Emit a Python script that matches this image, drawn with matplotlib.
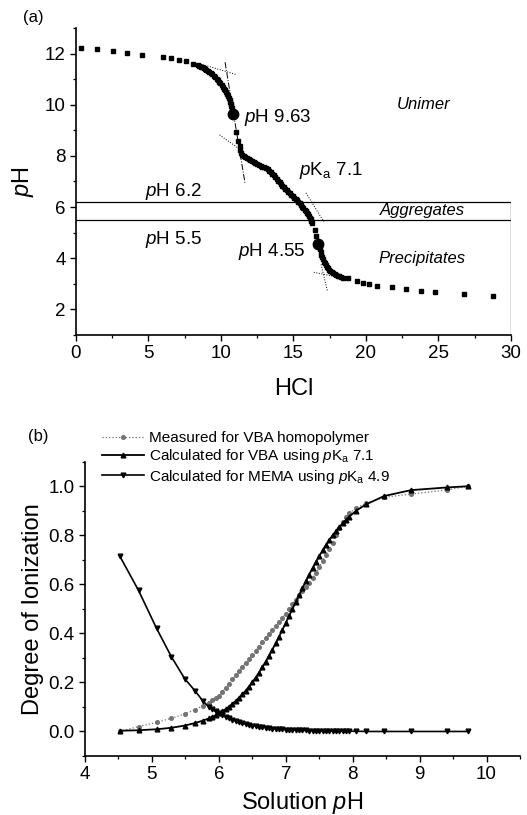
"""Titration curve (a) and degree of ionization (b) for the VBA/MEMA system."""

import matplotlib.pyplot as plt
from matplotlib.ticker import MultipleLocator

plt.rcParams["font.family"] = ["Liberation Sans", "DejaVu Sans"]
plt.rcParams["mathtext.fontset"] = "custom"
plt.rcParams["mathtext.rm"] = "Liberation Sans"
plt.rcParams["mathtext.it"] = "Liberation Sans:italic"
plt.rcParams["mathtext.bf"] = "Liberation Sans:bold"

# ---- (a) titration with HCl ----
hcl = [0.34, 1.43, 2.53, 3.52, 4.55, 6.02, 6.55, 7.10, 7.57, 8.09,
       8.40, 8.50, 8.60, 8.70, 8.80, 8.90, 9.00, 9.10, 9.20, 9.30,
       9.40, 9.50, 9.60, 9.70, 9.80, 9.88, 9.96, 10.04, 10.12, 10.20,
       10.28, 10.35, 10.42, 10.48, 10.54, 10.59, 10.64, 10.68, 10.72, 10.75,
       11.03, 11.15,
       11.28, 11.34, 11.40, 11.48, 11.58, 11.68, 11.78, 11.90, 12.02, 12.14,
       12.26, 12.38, 12.50, 12.62, 12.74, 12.86, 12.98, 13.10, 13.22, 13.33,
       13.44, 13.54, 13.64, 13.74, 13.84, 13.94, 14.04, 14.14, 14.24, 14.34,
       14.44, 14.54, 14.64, 14.74, 14.84, 14.94, 15.04, 15.14, 15.24, 15.33,
       15.42, 15.51, 15.60, 15.68, 15.76, 15.84, 15.91, 15.98, 16.05, 16.12,
       16.18, 16.24, 16.30,
       16.45, 16.53,
       16.82, 16.87, 16.92, 16.97, 17.03, 17.09, 17.15, 17.22, 17.30, 17.38,
       17.46, 17.55, 17.64, 17.73, 17.83, 17.93, 18.04, 18.16, 18.28, 18.40,
       18.78, 19.36, 19.80, 20.23, 20.74, 21.77, 22.76, 23.77, 24.76, 26.78,
       28.78]
ph = [12.22, 12.16, 12.09, 12.03, 11.96, 11.88, 11.82, 11.75, 11.69, 11.60,
      11.54, 11.51, 11.49, 11.46, 11.43, 11.40, 11.36, 11.32, 11.28, 11.24,
      11.19, 11.13, 11.07, 11.01, 10.95, 10.89, 10.83, 10.77, 10.70, 10.63,
      10.56, 10.49, 10.41, 10.34, 10.26, 10.19, 10.11, 10.03, 9.95, 9.87,
      8.93, 8.58,
      8.40, 8.24, 8.12, 8.05, 8.00, 7.95, 7.91, 7.87, 7.83, 7.79,
      7.76, 7.72, 7.69, 7.65, 7.62, 7.58, 7.55, 7.51, 7.47, 7.42,
      7.37, 7.31, 7.24, 7.17, 7.10, 7.03, 6.97, 6.91, 6.84, 6.77,
      6.71, 6.65, 6.59, 6.53, 6.47, 6.42, 6.37, 6.31, 6.26, 6.20,
      6.14, 6.08, 6.02, 5.96, 5.90, 5.84, 5.78, 5.72, 5.66, 5.59,
      5.52, 5.45, 5.38,
      5.10, 4.87,
      4.36, 4.24, 4.13, 4.04, 3.95, 3.87, 3.80, 3.73, 3.66, 3.60,
      3.55, 3.50, 3.46, 3.42, 3.39, 3.35, 3.32, 3.29, 3.26, 3.24,
      3.22, 3.11, 3.03, 2.98, 2.93, 2.87, 2.79, 2.72, 2.67, 2.60,
      2.54]

# equivalence points
eq_hcl = [10.80, 16.72]
eq_ph = [9.63, 4.55]

# tangent constructions: (x0, x1), (y0, y1), line style
tangents = [
    ((8.55, 11.10), (11.60, 11.17), ":"),
    ((10.28, 11.66), (11.66, 6.92), "-."),
    ((9.90, 11.40), (8.82, 8.22), ":"),
    ((15.86, 17.10), (6.55, 5.42), ":"),
    ((16.40, 18.10), (3.45, 3.26), ":"),
    ((16.90, 17.35), (3.76, 2.70), ":"),
]

ph_upper = 6.2
ph_lower = 5.5

# ---- (b) degree of ionization ----
solution_ph = [4.52, 4.80, 5.07, 5.29, 5.49, 5.64, 5.76, 5.85,
               5.90, 5.95, 6.00, 6.05, 6.10, 6.15, 6.20, 6.25, 6.30, 6.35,
               6.40, 6.45, 6.50, 6.55, 6.60, 6.65, 6.70, 6.75, 6.80, 6.85,
               6.90, 6.95, 7.00, 7.05, 7.10, 7.15, 7.20, 7.25, 7.30, 7.35,
               7.40, 7.45, 7.50, 7.55, 7.60, 7.65, 7.70, 7.75, 7.80, 7.85,
               7.90, 7.95, 8.05, 8.20, 8.47, 8.87, 9.41, 9.73]
measured_vba = [0.000, 0.020, 0.037, 0.054, 0.071, 0.089, 0.105, 0.118,
                0.128, 0.137, 0.145, 0.162, 0.178, 0.195, 0.212, 0.229, 0.245, 0.262,
                0.279, 0.296, 0.312, 0.329, 0.346, 0.363, 0.380, 0.396, 0.413, 0.430,
                0.446, 0.463, 0.480, 0.500, 0.520, 0.538, 0.555, 0.572, 0.590, 0.607,
                0.625, 0.645, 0.670, 0.695, 0.720, 0.745, 0.770, 0.800, 0.830, 0.855,
                0.875, 0.890, 0.912, 0.930, 0.955, 0.968, 0.985, 1.000]
calc_vba = [0.003, 0.005, 0.009, 0.015, 0.024, 0.034, 0.044, 0.053,
            0.059, 0.066, 0.074, 0.082, 0.091, 0.101, 0.112, 0.124, 0.137, 0.151,
            0.166, 0.183, 0.201, 0.220, 0.240, 0.262, 0.285, 0.309, 0.334, 0.360,
            0.387, 0.415, 0.443, 0.472, 0.500, 0.528, 0.557, 0.585, 0.613, 0.640,
            0.666, 0.691, 0.715, 0.738, 0.760, 0.780, 0.800, 0.817, 0.834, 0.849,
            0.863, 0.876, 0.900, 0.926, 0.960, 0.984, 0.995, 1.000]
calc_mema = [0.715, 0.575, 0.420, 0.305, 0.215, 0.167, 0.125, 0.100,
             0.090, 0.082, 0.074, 0.066, 0.059, 0.053, 0.047, 0.042, 0.038, 0.034,
             0.030, 0.027, 0.024, 0.022, 0.019, 0.017, 0.016, 0.014, 0.012, 0.011,
             0.010, 0.009, 0.008, 0.007, 0.006, 0.005, 0.005, 0.004, 0.004, 0.003,
             0.003, 0.003, 0.002, 0.002, 0.002, 0.002, 0.001, 0.001, 0.001, 0.001,
             0.001, 0.001, 0.001, 0.000, 0.000, 0.000, 0.000, 0.000]

legend_labels = [
    "Measured for VBA homopolymer",
    r"Calculated for VBA using $\mathit{p}$K$_\mathregular{a}$ 7.1",
    r"Calculated for MEMA using $\mathit{p}$K$_\mathregular{a}$ 4.9",
]


def style_axes(ax):
    for side in ("top", "right"):
        ax.spines[side].set_visible(False)
    for side in ("left", "bottom"):
        ax.spines[side].set_linewidth(1.2)
    ax.tick_params(which="major", direction="out", length=4, width=1.0, labelsize=13.5)
    ax.tick_params(which="minor", direction="out", length=2.5, width=0.9)


fig = plt.figure(figsize=(5.27, 8.15), dpi=100)

# panel (a)
ax1 = fig.add_axes([0.1442, 0.589, 0.8254, 0.3767])
style_axes(ax1)
ax1.plot(hcl, ph, "s", color="black", ms=3.4, mec="black")
ax1.plot(eq_hcl, eq_ph, "o", color="black", ms=7.5)
for xs, ys, ls in tangents:
    ax1.plot(xs, ys, ls, color="black", lw=0.7)
ax1.plot([0, 30], [ph_upper, ph_upper], color="black", lw=0.9)
ax1.plot([0, 30], [ph_lower, ph_lower], color="black", lw=0.9)
ax1.plot([30, 30], [1, ph_upper], color="black", lw=0.9)

ax1.text(11.6, 9.5, r"$\mathit{p}$H 9.63", fontsize=13.5, va="center")
ax1.text(15.4, 7.44, r"$\mathit{p}$K$_\mathregular{a}$ 7.1", fontsize=13.5, va="center")
ax1.text(4.76, 6.62, r"$\mathit{p}$H 6.2", fontsize=13.5, va="center")
ax1.text(4.76, 4.74, r"$\mathit{p}$H 5.5", fontsize=13.5, va="center")
ax1.text(15.8, 4.25, r"$\mathit{p}$H 4.55", fontsize=13.5, va="center", ha="right")
ax1.text(24.0, 10.0, "Unimer", fontsize=12, style="italic", ha="center", va="center")
ax1.text(23.9, 5.85, "Aggregates", fontsize=12, style="italic", ha="center", va="center")
ax1.text(23.9, 4.0, "Precipitates", fontsize=12, style="italic", ha="center", va="center")

ax1.set_xlim(0, 30)
ax1.set_ylim(1, 13)
ax1.xaxis.set_major_locator(MultipleLocator(5))
ax1.xaxis.set_minor_locator(MultipleLocator(2.5))
ax1.yaxis.set_major_locator(MultipleLocator(2))
ax1.yaxis.set_minor_locator(MultipleLocator(1))
ax1.set_xlabel("HCl", fontsize=17, labelpad=11)
ax1.set_ylabel(r"$\mathit{p}$H", fontsize=17, labelpad=6)
fig.text(0.063, 0.979, "(a)", fontsize=12, ha="center", va="center")

# panel (b)
ax2 = fig.add_axes([0.1613, 0.0724, 0.8254, 0.3611])
style_axes(ax2)
ax2.plot(solution_ph, measured_vba, ":", color="0.45", lw=0.9,
         marker="o", ms=2.6, mfc="0.45", mec="0.45", label=legend_labels[0])
ax2.plot(solution_ph, calc_vba, "-", color="black", lw=1.3,
         marker="^", ms=3.4, label=legend_labels[1])
ax2.plot(solution_ph, calc_mema, "-", color="black", lw=1.2,
         marker="v", ms=3.4, label=legend_labels[2])

ax2.set_xlim(4, 10.5)
ax2.set_ylim(-0.1, 1.1)
ax2.xaxis.set_major_locator(MultipleLocator(1))
ax2.xaxis.set_minor_locator(MultipleLocator(0.5))
ax2.yaxis.set_major_locator(MultipleLocator(0.2))
ax2.yaxis.set_minor_locator(MultipleLocator(0.1))
ax2.yaxis.set_major_formatter(plt.FormatStrFormatter("%.1f"))
ax2.set_xlabel(r"Solution $\mathit{p}$H", fontsize=17, labelpad=5)
ax2.set_ylabel("Degree of Ionization", fontsize=17, labelpad=3)
ax2.legend(loc="upper left", bbox_to_anchor=(101.7 / 527, 1 - 431 / 815),
           bbox_transform=fig.transFigure, frameon=False, fontsize=11,
           handlelength=2.8, handletextpad=0.3, labelspacing=0.15,
           borderpad=0, borderaxespad=0, numpoints=1)
fig.text(0.072, 0.465, "(b)", fontsize=12, ha="center", va="center")

fig.savefig("out.png", dpi=100)
